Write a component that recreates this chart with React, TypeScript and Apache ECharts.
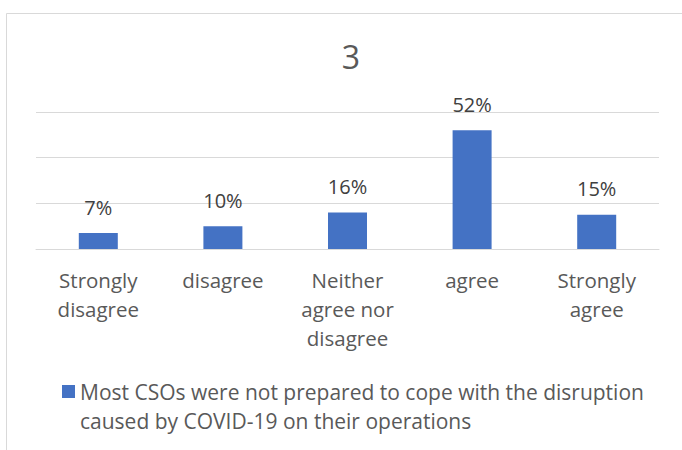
import React, { useEffect, useRef } from "react";
import * as echarts from "echarts";

const categories = ["Strongly\ndisagree", "disagree", "Neither\nagree nor\ndisagree", "agree", "Strongly\nagree"];
const values = [7, 10, 16, 52, 15];
const seriesName = "Most CSOs were not prepared to cope with the disruption caused by COVID-19 on their operations";
const legendLines = ["Most CSOs were not prepared to cope with the disruption", "caused by COVID-19 on their operations"];
const titleText = "3";

export default function App() {
  const ref = useRef<HTMLDivElement>(null);
  useEffect(() => {
    if (!ref.current) return;
    const chart = echarts.init(ref.current, undefined, { renderer: "svg" });
    const font = "Open Sans";
    chart.setOption({
      animation: false,
      backgroundColor: "#ffffff",
      graphic: [
        {
          type: "rect",
          shape: { x: 6.5, y: 13.5, width: 700, height: 460 },
          style: { fill: "none", stroke: "#d9d9d9", lineWidth: 1 },
          silent: true,
        },
      ],
      title: {
        text: titleText,
        left: 346,
        textAlign: "center",
        top: 35,
        textStyle: { fontFamily: font, fontSize: 32, fontWeight: "normal", color: "#595959" },
      },
      legend: {
        left: 57,
        top: 343,
        icon: "rect",
        itemWidth: 13,
        itemHeight: 13,
        itemGap: 6,
        formatter: () => "\n" + legendLines.join("\n"),
        textStyle: {
          fontFamily: font,
          fontSize: 21,
          color: "#595959",
          lineHeight: 29,
        },
        data: [seriesName],
      },
      grid: { left: 36, right: 23, top: 112, bottom: 201, containLabel: false },
      xAxis: {
        type: "category",
        data: categories,
        axisLine: { lineStyle: { color: "#d9d9d9", width: 1 } },
        axisTick: { show: false },
        axisLabel: {
          fontFamily: font,
          fontSize: 20.5,
          color: "#595959",
          lineHeight: 29,
          margin: 16,
          interval: 0,
        },
      },
      yAxis: {
        type: "value",
        min: 0,
        max: 60,
        interval: 20,
        axisLabel: { show: false },
        axisLine: { show: false },
        axisTick: { show: false },
        splitLine: { lineStyle: { color: "#d9d9d9", width: 1 } },
      },
      series: [
        {
          name: seriesName,
          type: "bar",
          data: values,
          barWidth: 39,
          itemStyle: { color: "#4472C4" },
          label: {
            show: true,
            position: "top",
            distance: 16,
            formatter: (p: any) => p.value + "%",
            fontFamily: font,
            fontSize: 20,
            color: "#404040",
          },
        },
      ],
    });
    return () => chart.dispose();
  }, []);
  return <div ref={ref} style={{ position: "fixed", left: 0, top: 0, width: 682, height: 450 }} />;
}
